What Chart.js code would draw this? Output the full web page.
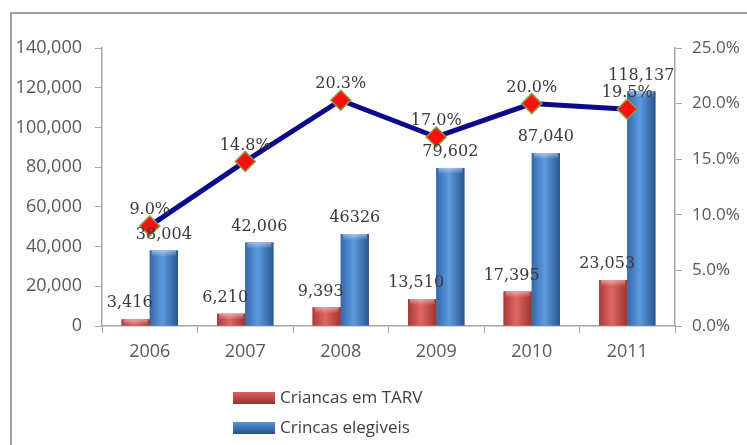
<!DOCTYPE html>
<html>
<head>
<meta charset="utf-8">
<script src="https://cdn.jsdelivr.net/npm/chart.js@4"></script>
<style>
  html, body { margin:0; padding:0; background:#fff; }
  #wrap { position:relative; width:747px; height:445px; overflow:hidden; }
  #frame { position:absolute; left:10px; top:12px; width:800px; height:500px; border:2px solid #a0a0a0; box-sizing:border-box; }
  canvas { position:absolute; left:0; top:0; }
</style>
</head>
<body>
<div id="wrap">
  <div id="frame"></div>
  <canvas id="c" width="747" height="445"></canvas>
</div>
<script>
const years = ["2006","2007","2008","2009","2010","2011"];
const criancasTARV = [3416, 6210, 9393, 13510, 17395, 23053];
const criancasElegiveis = [38004, 42006, 46326, 79602, 87040, 118137];
const elegiveisLabels = ["38,004","42,006","46326","79,602","87,040","118,137"];
const percentCoverage = [0.090, 0.148, 0.203, 0.170, 0.200, 0.195];
const leftTicksMax = 140000;
const rightTicksMax = 0.25;

const tickFont = { family: "Open Sans", size: 18 };
const tickFontR = { family: "Open Sans", size: 17 };
const tickColor = "#595959";
const axisColor = "#a6a6a6";

const barGradient = {
  id: 'barGradient',
  afterDatasetDraw(chart, args) {
    const ds = chart.data.datasets[args.index];
    if (ds.type !== 'bar') return;
    const ctx = chart.ctx;
    const cols = ds.gradColors;
    args.meta.data.forEach(el => {
      const l = el.x - el.width / 2, r = el.x + el.width / 2;
      const g = ctx.createLinearGradient(l, 0, r, 0);
      g.addColorStop(0, cols[0]);
      g.addColorStop(0.45, cols[1]);
      g.addColorStop(1, cols[2]);
      ctx.save();
      ctx.fillStyle = g;
      ctx.fillRect(l, el.y, r - l, el.base - el.y);
      const h = Math.min(6, el.base - el.y);
      const g2 = ctx.createLinearGradient(0, el.y, 0, el.y + h);
      g2.addColorStop(0, 'rgba(255,255,255,0.45)');
      g2.addColorStop(1, 'rgba(255,255,255,0)');
      ctx.fillStyle = g2;
      ctx.fillRect(l + 2, el.y, r - l - 4, h);
      ctx.restore();
    });
  }
};

const labelsPlugin = {
  id: 'valueLabels',
  afterDatasetsDraw(chart) {
    const ctx = chart.ctx;
    ctx.save();
    ctx.font = "16px 'DejaVu Serif'";
    ctx.fillStyle = "#3a3a3a";
    ctx.textAlign = 'center';
    ctx.textBaseline = 'middle';
    chart.data.datasets.forEach((ds, i) => {
      const meta = chart.getDatasetMeta(i);
      meta.data.forEach((el, j) => {
        let text;
        if (ds.type === 'line') text = (ds.data[j] * 100).toFixed(1) + '%';
        else if (ds.labelTexts) text = ds.labelTexts[j];
        else text = ds.data[j].toLocaleString('en-US');
        const dx = ds.type === 'bar' && !ds.labelTexts ? -6 : 0;
        ctx.fillText(text, el.x + dx, el.y - 16);
      });
    });
    ctx.restore();
  }
};

const legendPlugin = {
  id: 'customLegend',
  afterDraw(chart) {
    const ctx = chart.ctx;
    const items = chart.data.datasets.filter(d => d.type === 'bar');
    const x0 = chart.chartArea.left + 131;
    const y0 = chart.chartArea.bottom + 71;
    ctx.save();
    ctx.font = "17px 'Open Sans'";
    ctx.textBaseline = 'middle';
    items.forEach((d, k) => {
      const y = y0 + k * 30;
      const g = ctx.createLinearGradient(0, y - 6, 0, y + 6);
      g.addColorStop(0, d.gradColors[1]);
      g.addColorStop(1, d.gradColors[2]);
      ctx.fillStyle = g;
      ctx.fillRect(x0, y - 5, 42, 12);
      ctx.fillStyle = "#404040";
      ctx.fillText(d.label, x0 + 47, y + 1);
    });
    ctx.restore();
  }
};

new Chart(document.getElementById('c'), {
  data: {
    labels: years,
    datasets: [
      {
        type: 'line',
        label: 'Cobertura',
        data: percentCoverage,
        yAxisID: 'yR',
        order: 0,
        borderColor: '#0b0b8a',
        borderWidth: 5,
        pointStyle: 'rectRot',
        pointRadius: 10,
        pointBackgroundColor: '#ff1010',
        pointBorderColor: '#8f9a45',
        pointBorderWidth: 1.5,
        tension: 0
      },
      {
        type: 'bar',
        label: 'Criancas em TARV',
        data: criancasTARV,
        yAxisID: 'y',
        order: 1,
        backgroundColor: '#c0504d',
        gradColors: ['#a83c3a', '#e06662', '#9c3533']
      },
      {
        type: 'bar',
        label: 'Crincas elegiveis',
        data: criancasElegiveis,
        labelTexts: elegiveisLabels,
        yAxisID: 'y',
        order: 2,
        backgroundColor: '#4f81bd',
        gradColors: ['#3768a8', '#5b9be0', '#2a5690']
      }
    ]
  },
  options: {
    responsive: false,
    animation: false,
    devicePixelRatio: 1,
    layout: { padding: { top: 48, bottom: 80, left: 0, right: 0 } },
    datasets: { bar: { categoryPercentage: 0.59, barPercentage: 1.0 } },
    plugins: { legend: { display: false }, tooltip: { enabled: false } },
    scales: {
      x: {
        offset: true,
        grid: { display: true, drawOnChartArea: false, drawTicks: true, tickLength: 7, color: axisColor, offset: true },
        border: { display: true, color: axisColor, width: 1.5 },
        ticks: { font: tickFont, color: tickColor, padding: 8 },
        afterFit(s) { s.height = 39; }
      },
      y: {
        position: 'left',
        min: 0, max: leftTicksMax,
        grid: { drawOnChartArea: false, drawTicks: true, tickLength: 7, color: axisColor },
        border: { display: true, color: axisColor, width: 1.5 },
        ticks: { stepSize: 20000, font: tickFont, color: tickColor, padding: 13,
                 callback: v => v.toLocaleString('en-US') },
        afterFit(s) { s.width = 102; }
      },
      yR: {
        position: 'right',
        min: 0, max: rightTicksMax,
        grid: { drawOnChartArea: false, drawTicks: true, tickLength: 7, color: axisColor },
        border: { display: true, color: axisColor, width: 1.5 },
        ticks: { stepSize: 0.05, font: tickFontR, color: tickColor, padding: 10,
                 callback: v => (v * 100).toFixed(1) + '%' },
        afterFit(s) { s.width = 72; }
      }
    }
  },
  plugins: [barGradient, labelsPlugin, legendPlugin]
});
</script>
</body>
</html>
